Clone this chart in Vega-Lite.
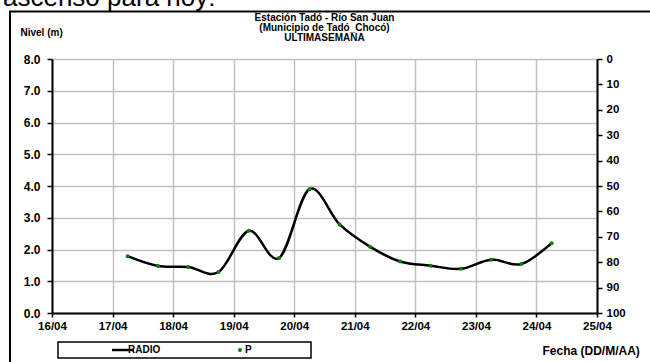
{
  "$schema": "https://vega.github.io/schema/vega-lite/v6.json",
  "width": 545,
  "height": 254,
  "autosize": {"type": "none"},
  "padding": {"left": 52, "top": 59, "right": 53, "bottom": 49},
  "background": "white",
  "config": {"font": "Liberation Sans", "view": {"stroke": null}},
  "title": {
    "text": "ascenso para hoy:",
    "fontSize": 26, "fontWeight": "normal", "offset": 3, "dx": -6, "dy": 4,
    "anchor": "start", "frame": "bounds", "color": "black", "font": "Liberation Sans"
  },
  "data": {
    "values": [
      {"fecha": "2013-04-17T06:00:00Z", "nivel": 1.79, "serie": "RADIO", "p": null},
      {"fecha": "2013-04-17T18:00:00Z", "nivel": 1.48, "serie": "RADIO", "p": null},
      {"fecha": "2013-04-18T06:00:00Z", "nivel": 1.45, "serie": "RADIO", "p": null},
      {"fecha": "2013-04-18T18:00:00Z", "nivel": 1.29, "serie": "RADIO", "p": null},
      {"fecha": "2013-04-19T06:00:00Z", "nivel": 2.59, "serie": "RADIO", "p": null},
      {"fecha": "2013-04-19T18:00:00Z", "nivel": 1.73, "serie": "RADIO", "p": null},
      {"fecha": "2013-04-20T06:00:00Z", "nivel": 3.90, "serie": "RADIO", "p": null},
      {"fecha": "2013-04-20T18:00:00Z", "nivel": 2.79, "serie": "RADIO", "p": null},
      {"fecha": "2013-04-21T06:00:00Z", "nivel": 2.09, "serie": "RADIO", "p": null},
      {"fecha": "2013-04-21T18:00:00Z", "nivel": 1.62, "serie": "RADIO", "p": null},
      {"fecha": "2013-04-22T06:00:00Z", "nivel": 1.49, "serie": "RADIO", "p": null},
      {"fecha": "2013-04-22T18:00:00Z", "nivel": 1.39, "serie": "RADIO", "p": null},
      {"fecha": "2013-04-23T06:00:00Z", "nivel": 1.68, "serie": "RADIO", "p": null},
      {"fecha": "2013-04-23T18:00:00Z", "nivel": 1.54, "serie": "RADIO", "p": null},
      {"fecha": "2013-04-24T06:00:00Z", "nivel": 2.20, "serie": "RADIO", "p": null}
    ]
  },
  "layer": [
    {
      "mark": {"type": "line", "interpolate": "cardinal", "strokeWidth": 2.5},
      "encoding": {
        "x": {"field": "fecha", "type": "temporal",
              "scale": {"type": "utc", "domain": [{"year": 2013, "month": 4, "date": 16, "utc": true}, {"year": 2013, "month": 4, "date": 25, "utc": true}]},
              "axis": {
                "values": [
                  {"year": 2013, "month": 4, "date": 16, "utc": true},
                  {"year": 2013, "month": 4, "date": 17, "utc": true},
                  {"year": 2013, "month": 4, "date": 18, "utc": true},
                  {"year": 2013, "month": 4, "date": 19, "utc": true},
                  {"year": 2013, "month": 4, "date": 20, "utc": true},
                  {"year": 2013, "month": 4, "date": 21, "utc": true},
                  {"year": 2013, "month": 4, "date": 22, "utc": true},
                  {"year": 2013, "month": 4, "date": 23, "utc": true},
                  {"year": 2013, "month": 4, "date": 24, "utc": true},
                  {"year": 2013, "month": 4, "date": 25, "utc": true}
                ],
                "format": "%d/%m", "labelFlush": false, "labelOverlap": false,
                "labelFont": "Liberation Sans", "labelFontSize": 11.5, "labelFontWeight": "bold", "labelColor": "black", "labelPadding": 3,
                "domainColor": "black", "domainWidth": 2, "tickColor": "black", "tickWidth": 1.5, "tickSize": 4,
                "grid": true, "gridColor": "#c0c0c0", "gridWidth": 1.5,
                "title": "Fecha (DD/M/AA)", "titleFont": "Liberation Sans", "titleFontSize": 12, "titleFontWeight": "bold", "titleColor": "black",
                "titleX": 490, "titleY": 37, "titleAlign": "left", "titleAnchor": null, "titleBaseline": "middle", "titleAngle": 0
              }},
        "y": {"field": "nivel", "type": "quantitative",
              "scale": {"domain": [0, 8], "nice": false, "zero": false},
              "axis": {
                "values": [0, 1, 2, 3, 4, 5, 6, 7, 8], "format": ".1f", "labelOverlap": false,
                "labelFont": "Liberation Sans", "labelFontSize": 12, "labelFontWeight": "bold", "labelColor": "black", "labelPadding": 7,
                "domainColor": "black", "domainWidth": 2, "tickColor": "black", "tickWidth": 1.5, "tickSize": 5,
                "grid": true, "gridColor": "#c0c0c0", "gridWidth": 1.5,
                "title": "Nivel (m)", "titleFont": "Liberation Sans", "titleFontSize": 10, "titleFontWeight": "bold", "titleColor": "black",
                "titleX": -32, "titleY": -27, "titleAlign": "left", "titleAnchor": null, "titleBaseline": "middle", "titleAngle": 0
              }},
        "color": {"field": "serie", "type": "nominal",
                  "scale": {"domain": ["RADIO", "P"], "range": ["#000000", "#008000"]},
                  "legend": {
                    "orient": "none", "legendX": 6, "legendY": 283, "direction": "horizontal",
                    "title": "⠀⠀⠀⠀⠀⠀⠀⠀⠀", "titleOrient": "left", "titleFontSize": 8, "titlePadding": 0, "titleFont": "DejaVu Sans",
                    "padding": 3, "strokeColor": "black", "fillColor": "white",
                    "symbolSize": 484, "symbolType": "stroke", "symbolStrokeWidth": 2.5,
                    "labelFont": "Liberation Sans", "labelFontSize": 10, "labelFontWeight": "bold", "labelOffset": 0, "labelColor": "black",
                    "columnPadding": 74, "gridAlign": "each",
                    "labelExpr": "datum.label === 'P' ? 'P⠀⠀⠀⠀⠀⠀⠀⠀' : datum.label",
                    "encode": {
                      "symbols": {"update": {
                        "shape": {"signal": "datum.value === 'P' ? 'circle' : 'stroke'"},
                        "size": {"signal": "datum.value === 'P' ? 16 : 484"},
                        "strokeWidth": {"signal": "datum.value === 'P' ? 0 : 2.5"},
                        "fill": {"value": "#008000"},
                        "stroke": {"value": "#000000"}
                      }},
                      "legend": {"update": {"strokeWidth": {"value": 1.5}}}
                    }
                  }}
      }
    },
    {
      "mark": {"type": "point", "filled": true, "color": "#008000", "size": 16, "opacity": 1},
      "encoding": {
        "x": {"field": "fecha", "type": "temporal"},
        "y": {"field": "nivel", "type": "quantitative", "scale": {"domain": [0, 8], "nice": false, "zero": false}, "axis": null}
      }
    },
    {
      "mark": {"type": "point", "filled": true, "color": "#008000", "size": 16},
      "encoding": {
        "x": {"field": "fecha", "type": "temporal"},
        "y": {"field": "p", "type": "quantitative",
              "scale": {"domain": [0, 100], "reverse": true, "nice": false},
              "axis": {
                "orient": "right", "values": [0, 10, 20, 30, 40, 50, 60, 70, 80, 90, 100],
                "labelFont": "Liberation Sans", "labelFontSize": 11.5, "labelFontWeight": "bold", "labelColor": "black", "labelPadding": 4,
                "domainColor": "black", "domainWidth": 2, "tickColor": "black", "tickWidth": 1.5, "tickSize": 5, "grid": false,
                "title": ["Estación Tadó - Río San Juan", "(Municipio de Tadó_Chocó)", "ULTIMASEMANA"],
                "titleFont": "Liberation Sans", "titleFontSize": 10, "titleFontWeight": "bold", "titleColor": "black", "titleLineHeight": 10,
                "titleX": -273, "titleY": -47, "titleAlign": "center", "titleAnchor": null, "titleBaseline": "top", "titleAngle": 0, "titleLimit": 1000
              }}
      }
    },
    {
      "data": {"values": [{}]},
      "mark": {"type": "rect", "filled": false, "stroke": "black", "strokeWidth": 2, "clip": false},
      "encoding": {
        "x": {"datum": {"year": 2013, "month": 4, "date": 15, "hours": 7, "minutes": 21, "utc": true}, "type": "temporal"},
        "x2": {"datum": {"year": 2013, "month": 4, "date": 26, "hours": 6, "utc": true}},
        "y": {"datum": 9.5, "type": "quantitative", "scale": {"domain": [0, 8], "nice": false}, "axis": null},
        "y2": {"datum": -2.2}
      }
    }
  ],
  "resolve": {"scale": {"y": "independent"}}
}
